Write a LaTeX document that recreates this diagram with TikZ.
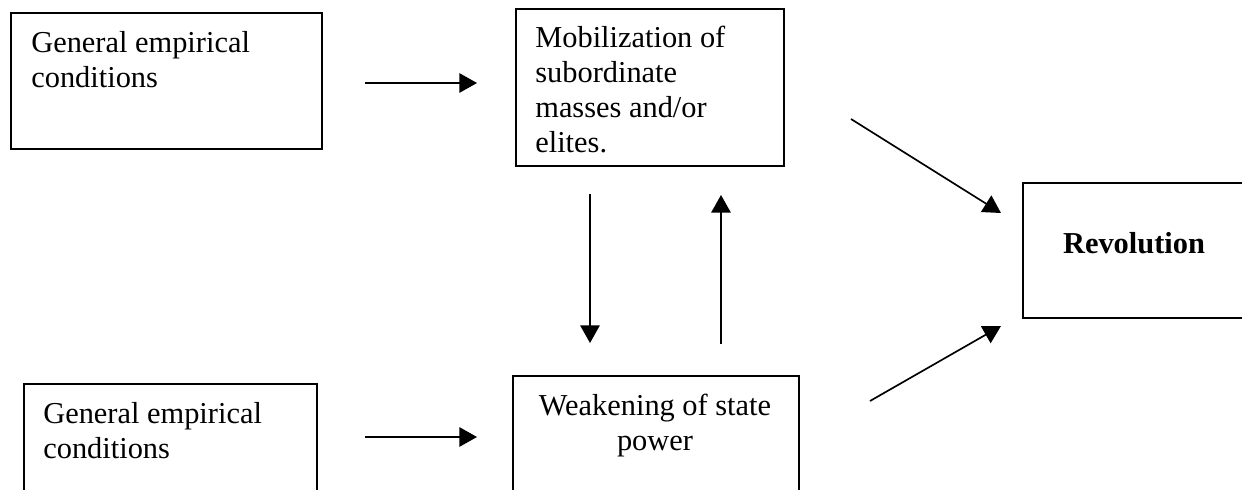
\documentclass[tikz,border=0pt]{standalone}
\usepackage{fontspec}
\setmainfont{Liberation Serif}
\usetikzlibrary{positioning,arrows.meta,calc}
\tikzset{
  box/.style={rectangle,draw=black,line width=1.1pt,anchor=north west,inner sep=0pt},
  boxtext/.style={inner sep=0pt,font=\fontsize{17.3}{19.8}\selectfont},
  edge/.style={-{Triangle[length=10pt,width=11pt]},line width=0.95pt}
}

\begin{document}
\begin{tikzpicture}[x=0.02cm,y=-0.02cm]
  \useasboundingbox (0,0) rectangle (1242,490);
  \node[box,minimum width=6.22cm,minimum height=2.72cm] (cond1) at (10,12) {};
  \node[boxtext,anchor=base west,align=left] (cond1txt) at (31,87) {General empirical\\conditions};
  \node[box,minimum width=5.36cm,minimum height=3.14cm] (mob) at (515,8) {};
  \node[boxtext,anchor=base west,align=left] (mobtxt) at (535,152) {Mobilization of\\subordinate\\masses and/or\\elites.};
  \node[box,minimum width=4.56cm,minimum height=2.7cm] (rev) at (1022,182) {};
  \node[boxtext,anchor=base,font=\fontsize{17.3}{19.8}\selectfont\bfseries] (revtxt) at (1134,253) {Revolution};
  \node[box,minimum width=5.86cm,minimum height=3cm] (cond2) at (23,383) {};
  \node[boxtext,anchor=base west,align=left] (cond2txt) at (43,458) {General empirical\\conditions};
  \node[box,minimum width=5.72cm,minimum height=3cm] (weak) at (512,375) {};
  \node[boxtext,anchor=base,align=center] (weaktxt) at (655,450) {Weakening of state\\power};

  \coordinate (c1out) at (365,83);
  \coordinate (mobin) at (477,83);
  \coordinate (c2out) at (365,437);
  \coordinate (weakin) at (477,437);
  \coordinate (mobdown) at (590,194);
  \coordinate (weakdown) at (590,343);
  \coordinate (weakup) at (721,344);
  \coordinate (mobup) at (721,195);
  \coordinate (mobout) at (851,119);
  \coordinate (revtop) at (1001,213);
  \coordinate (weakout) at (870,401);
  \coordinate (revbot) at (1001,326);

  \draw[edge] (c1out) -- (mobin);
  \draw[edge] (c2out) -- (weakin);
  \draw[edge] (mobdown) -- (weakdown);
  \draw[edge] (weakup) -- (mobup);
  \draw[edge] (mobout) -- (revtop);
  \draw[edge] (weakout) -- (revbot);
\end{tikzpicture}
\end{document}
